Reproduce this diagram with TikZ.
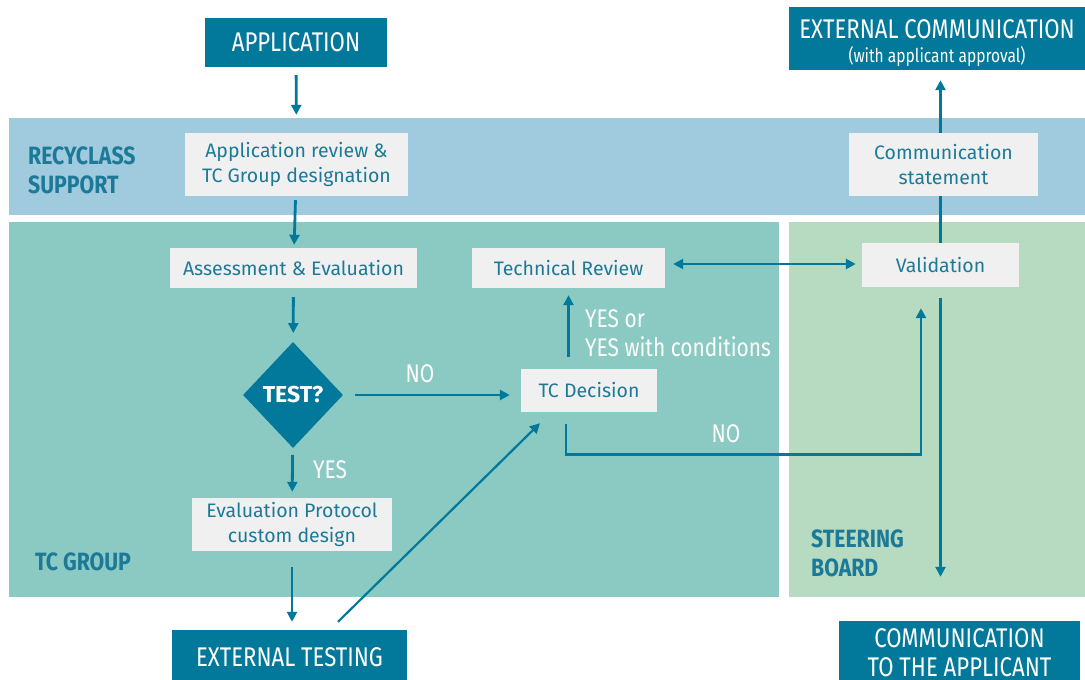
\documentclass[tikz,border=0pt]{standalone}
\usepackage{fontspec}
\setmainfont{Fira Sans}
\newfontfamily\headfont[FakeStretch=0.82]{Fira Sans}
\newfontfamily\bandfont[FakeStretch=0.85]{Fira Sans}
\usetikzlibrary{arrows.meta,shapes.geometric}
\definecolor{mainblue}{RGB}{2,121,154}
\definecolor{textblue}{RGB}{28,122,152}
\definecolor{bandblue}{RGB}{160,202,222}
\definecolor{bandteal}{RGB}{139,201,195}
\definecolor{bandgreen}{RGB}{182,219,192}
\definecolor{boxgray}{RGB}{240,240,240}

\begin{document}
\begin{tikzpicture}[x=1pt,y=-1pt,
  darkbox/.style={fill=mainblue,text=white,inner sep=0pt,align=center,font=\headfont\fontsize{27}{29}\selectfont},
  graybox/.style={fill=boxgray,text=textblue,inner sep=0pt,align=center,font=\fontsize{19.5}{25}\selectfont},
  bandlabel/.style={text=textblue,anchor=west,align=left,inner sep=0pt,font=\bandfont\bfseries\fontsize{25}{29}\selectfont},
  answer/.style={text=white,font=\headfont\fontsize{25.5}{29}\selectfont},
  flow/.style={draw=mainblue,line width=2.8pt,-{Triangle[length=10pt,width=10pt]}},
  link/.style={draw=mainblue,line width=2.8pt}]
\useasboundingbox (0,0) rectangle (1085,680);
\fill[bandblue] (9,118) rectangle (1085,215);
\fill[bandteal] (9,222) rectangle (779,597);
\fill[bandgreen] (789,222) rectangle (1085,597);
\node[bandlabel](support) at (28,170) {RECYCLASS\\SUPPORT};
\node[bandlabel](tcgroup) at (35,562) {TC GROUP};
\node[bandlabel](board) at (811,553) {STEERING\\BOARD};

\node[darkbox,minimum width=182pt,minimum height=49pt](application) at (296,42.5) {APPLICATION};
\node[darkbox,minimum width=296pt,minimum height=63pt,
  label={[text=white,align=center,yshift=-5pt,font=\headfont\fontsize{27}{29}\selectfont]center:EXTERNAL COMMUNICATION\\[-5pt]{\fontsize{19}{20}\selectfont(with applicant approval)}}](extcomm) at (937,38.5) {};
\node[darkbox,minimum width=235pt,minimum height=54pt](exttesting) at (289.5,657) {EXTERNAL TESTING};
\node[darkbox,minimum width=241pt,minimum height=63pt](commapplicant) at (959.5,652.5) {COMMUNICATION\\TO THE APPLICANT};

\node[graybox,minimum width=223pt,minimum height=63pt](appreview) at (296.5,164.5) {Application review \&\\TC Group designation};
\node[graybox,minimum width=189pt,minimum height=63pt](commstatement) at (943.5,164.5) {Communication\\statement};
\node[graybox,minimum width=247pt,minimum height=40pt](assess) at (293.5,268) {Assessment \& Evaluation};
\node[graybox,minimum width=193pt,minimum height=40pt](techreview) at (568.5,268) {Technical Review};
\node[graybox,minimum width=157pt,minimum height=44pt](validation) at (940.5,265) {Validation};
\node[graybox,minimum width=136pt,minimum height=43pt](tcdecision) at (589,390.5) {TC Decision};
\node[graybox,minimum width=200pt,minimum height=53pt](evalprotocol) at (292,524.5) {Evaluation Protocol\\custom design};
\node[diamond,fill=mainblue,text=white,inner sep=0pt,minimum width=100pt,minimum height=106pt,font=\bfseries\fontsize{23}{25}\selectfont](test) at (293,395) {TEST?};

\node[answer](no1) at (420,374) {NO};
\node[answer](yes1) at (330,470) {YES};
\node[answer,anchor=west,align=left,inner sep=0pt](yescond) at (585,333) {YES or\\YES with conditions};
\node[answer](no2) at (726,434) {NO};

\draw[flow,shorten <=8pt,shorten >=18pt] (application) -- (appreview);
\draw[flow,shorten <=4pt,shorten >=3pt] (appreview) -- (assess);
\draw[flow,shorten <=9pt,shorten >=9pt] (assess) -- (test);
\draw[flow,shorten <=12pt,shorten >=11pt] (test.east) -- (test.east -| tcdecision.west);
\draw[flow,shorten <=7pt,shorten >=6pt] (test) -- (evalprotocol);
\draw[flow,shorten <=16pt,shorten >=8pt] (evalprotocol.south) -- (evalprotocol.south |- exttesting.north);
\draw[flow,line width=2.2pt] ([xshift=48.5pt,yshift=8pt]exttesting.north) -- ([xshift=-49pt,yshift=-11pt]tcdecision.south);
\draw[flow,shorten <=12pt,shorten >=7pt] (tcdecision.north -| techreview.south) -- (techreview.south);
\draw[flow] ([xshift=-23pt,yshift=-12pt]tcdecision.south) -- ++(0,30) -| ([xshift=-19.5pt,yshift=-21pt]validation.south);
\draw[link,{Triangle[length=10pt,width=10pt]}-{Triangle[length=10pt,width=10pt]},shorten <=6pt,shorten >=8pt] (validation.west |- 0,264) -- (techreview.east |- 0,264);
\draw[link] (validation.north) -- (validation.north |- commstatement.south);
\draw[flow,shorten >=10pt] (validation.north |- commstatement.north) -- (validation.north |- extcomm.south);
\draw[flow,shorten <=11pt,shorten >=44pt] (validation.south) -- (validation.south |- commapplicant.north);
\end{tikzpicture}
\end{document}
